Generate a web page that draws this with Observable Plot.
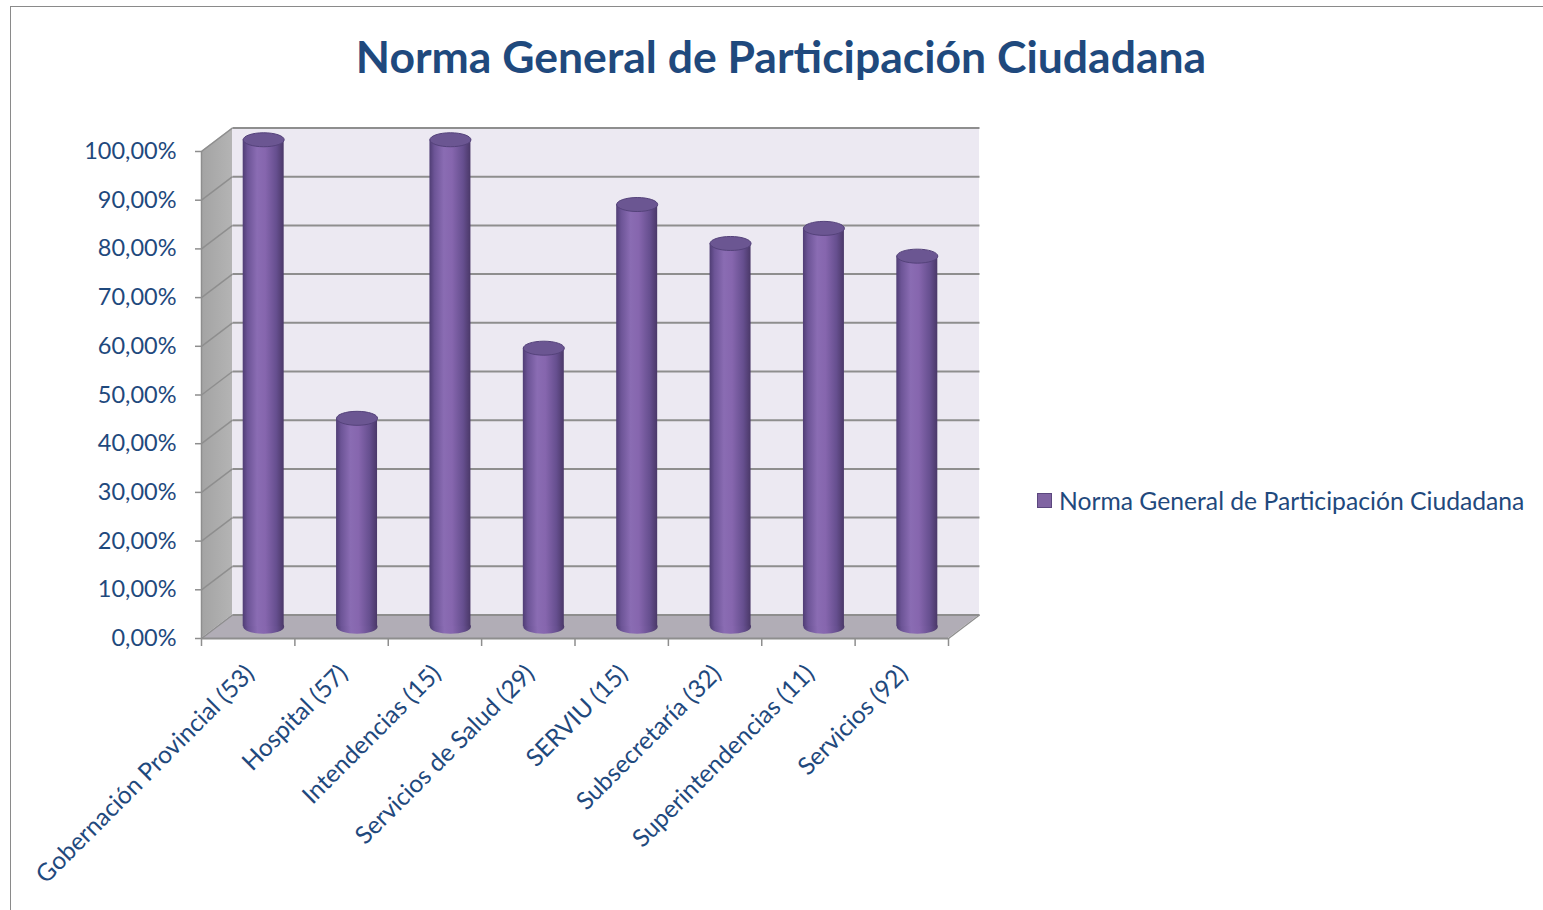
<!DOCTYPE html>
<html>
<head>
<meta charset="utf-8">
<script src="https://cdn.jsdelivr.net/npm/d3@7"></script>
<script src="https://cdn.jsdelivr.net/npm/@observablehq/plot@0.6"></script>
<style>
  html, body { margin: 0; padding: 0; background: #fff; }
  body { width: 1543px; height: 910px; position: relative; overflow: hidden; font-family: Lato, "Open Sans", sans-serif; }
  #frame { position: absolute; left: 10px; top: 6px; width: 1540px; height: 920px; border: 1.5px solid #8a8a8a; box-sizing: border-box; }
  #title { position: absolute; left: 0; top: 32px; width: 1562px; text-align: center; font: bold 44.5px Lato, sans-serif; color: #1f497d; line-height: 48px; }
  #chart { position: absolute; left: 0; top: 100px; }
  #legend { position: absolute; left: 1037px; top: 486px; display: flex; align-items: center; font: 24.7px Lato, sans-serif; color: #1f497d; white-space: nowrap; }
  #legend .sw { width: 13px; height: 13px; background: #8064a2; border: 1.5px solid #5b477e; margin-right: 7px; }
</style>
</head>
<body>
<div id="frame"></div>
<div id="title">Norma General de Participación Ciudadana</div>
<div id="chart"></div>
<div id="legend"><span class="sw"></span><span id="legend-label"></span></div>
<script>
const seriesName = "Norma General de Participación Ciudadana";
const categories = [
  "Gobernación Provincial (53)",
  "Hospital (57)",
  "Intendencias (15)",
  "Servicios de Salud (29)",
  "SERVIU (15)",
  "Subsecretaría (32)",
  "Superintendencias (11)",
  "Servicios (92)"
];
const values = [1.0, 0.428, 1.0, 0.572, 0.867, 0.787, 0.818, 0.761];
const yTicks = [0, 0.1, 0.2, 0.3, 0.4, 0.5, 0.6, 0.7, 0.8, 0.9, 1.0];
const yTickLabels = ["0,00%", "10,00%", "20,00%", "30,00%", "40,00%", "50,00%", "60,00%", "70,00%", "80,00%", "90,00%", "100,00%"];

document.getElementById("legend-label").textContent = seriesName;

const data = categories.map((cat, i) => ({cat, i, value: values[i]}));
const n = categories.length;

// layout
const W = 1000, H = 810;
const mL = 201, mR = 52, mT = 51, mB = 272;
const plotW = W - mL - mR, plotH = H - mT - mB;
const DEPTH_X = 31, DEPTH_Y = 23.5;          // 3-D depth offset in pixels
const ddx = DEPTH_X / (plotW / n);           // same offset in data units
const ddy = DEPTH_Y / plotH;

const sideWall = [{x: 0, y1: 0, y2: 1}, {x: ddx, y1: ddy, y2: 1 + ddy}];
const floor = [{y: 0, x1: 0, x2: n}, {y: ddy, x1: ddx, x2: n + ddx}];
const backWall = [{x1: ddx, x2: n + ddx, y1: ddy, y2: 1 + ddy}];

function ellipse(rx, ry) {
  const k = 0.5523;
  return {
    draw(ctx) {
      ctx.moveTo(-rx, 0);
      ctx.bezierCurveTo(-rx, -ry * k, -rx * k, -ry, 0, -ry);
      ctx.bezierCurveTo(rx * k, -ry, rx, -ry * k, rx, 0);
      ctx.bezierCurveTo(rx, ry * k, rx * k, ry, 0, ry);
      ctx.bezierCurveTo(-rx * k, ry, -rx, ry * k, -rx, 0);
      ctx.closePath();
    }
  };
}

function defs() {
  const ns = "http://www.w3.org/2000/svg";
  const d = document.createElementNS(ns, "defs");
  d.innerHTML = `
    <linearGradient id="cyl" x1="0" x2="1" y1="0" y2="0">
      <stop offset="0" stop-color="#4f3d74"/>
      <stop offset="0.12" stop-color="#6c5496"/>
      <stop offset="0.35" stop-color="#8a6cb3"/>
      <stop offset="0.55" stop-color="#8666ae"/>
      <stop offset="0.82" stop-color="#664f8f"/>
      <stop offset="1" stop-color="#4a3868"/>
    </linearGradient>
    <linearGradient id="wall" x1="0" x2="1" y1="0" y2="0">
      <stop offset="0" stop-color="#a3a3a3"/>
      <stop offset="1" stop-color="#b4b4b4"/>
    </linearGradient>`;
  return d;
}

const grid = "#8e8e8e";
const plot = Plot.plot({
  width: W, height: H,
  marginLeft: mL, marginRight: mR, marginTop: mT, marginBottom: mB,
  style: {background: "transparent", overflow: "visible", fontFamily: "Lato, 'Open Sans', sans-serif"},
  x: {domain: [0, n], axis: null},
  y: {domain: [0, 1], axis: null},
  marks: [
    defs,
    // walls and floor
    Plot.rect(backWall, {x1: "x1", x2: "x2", y1: "y1", y2: "y2", fill: "#ece9f2"}),
    Plot.areaY(sideWall, {x: "x", y1: "y1", y2: "y2", fill: "url(#wall)"}),
    Plot.areaX(floor, {y: "y", x1: "x1", x2: "x2", fill: "#b1adb6"}),
    // gridlines on back and side walls
    Plot.link(yTicks, {x1: ddx, x2: n + ddx, y1: d => d + ddy, y2: d => d + ddy, stroke: grid, strokeWidth: 2}),
    Plot.link(yTicks, {x1: 0, x2: ddx, y1: d => d, y2: d => d + ddy, stroke: grid, strokeWidth: 1.5}),
    Plot.link([n], {x1: d => d, x2: d => d + ddx, y1: 0, y2: ddy, stroke: grid, strokeWidth: 1.5}),
    // axes
    Plot.ruleX([0], {y1: 0, y2: 1, stroke: grid, strokeWidth: 1.5}),
    Plot.ruleY([0], {x1: 0, x2: n, stroke: grid, strokeWidth: 2}),
    Plot.axisY({ticks: yTicks, tickFormat: d => yTickLabels[yTicks.indexOf(d)], tickSize: 6, tickPadding: 19,
      fontSize: 23.5, stroke: grid, fill: "#1f497d", strokeWidth: 1.5}),
    Plot.axisX({ticks: d3.range(n + 1), tickFormat: () => "", tickSize: 8, stroke: grid, strokeWidth: 1.5}),
    Plot.text(data, {x: d => d.i + 0.5, y: 0, text: "cat", rotate: -45, textAnchor: "end",
      dx: 2, dy: 31, fontSize: 24.5, fill: "#1f497d"}),
    // cylinders
    Plot.dot(data, {x: d => d.i + 0.5, y: 0, symbol: ellipse(20.5, 7), fill: "url(#cyl)", stroke: "none",
      dx: DEPTH_X / 2, dy: -DEPTH_Y / 2}),
    Plot.rectY(data, {x: "i", interval: 1, y: "value", insetLeft: 26.2, insetRight: 26.2, fill: "url(#cyl)",
      dx: DEPTH_X / 2, dy: -DEPTH_Y / 2}),
    Plot.dot(data, {x: d => d.i + 0.5, y: "value", symbol: ellipse(20.5, 7), fill: "#6b5692", stroke: "#54427a", strokeWidth: 1,
      dx: DEPTH_X / 2, dy: -DEPTH_Y / 2})
  ]
});
document.getElementById("chart").appendChild(plot);
</script>
</body>
</html>
